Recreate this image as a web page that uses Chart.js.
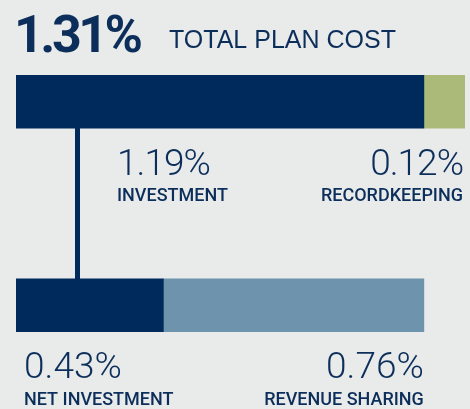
<!DOCTYPE html>
<html>
<head>
<meta charset="utf-8">
<script src="https://cdn.jsdelivr.net/npm/chart.js@4"></script>
<style>
  html, body { margin: 0; padding: 0; background: #e9eaea; }
  #wrap { width: 470px; height: 409px; }
</style>
</head>
<body>
<div id="wrap"><canvas id="planChart" width="470" height="409"></canvas></div>
<script>
// plan cost data (percent)
var rows = ['Total plan cost', 'Investment split'];
var firstPart = [1.19, 0.43];
var secondPart = [0.12, 0.76];
var firstNames = ['INVESTMENT', 'NET INVESTMENT'];
var secondNames = ['RECORDKEEPING', 'REVENUE SHARING'];
var totalCost = 1.31;
var totalTitle = 'TOTAL PLAN COST';

var navy = '#002a5b';
var textNavy = '#0c2e5a';
var numFont = '300 37px Roboto';
var nameFont = '500 18px Roboto';

function pct(v) { return v.toFixed(2) + '%'; }

// draws the headline, the labels and the connector line
var labelsPlugin = {
  id: 'labels',
  beforeDatasetsDraw: function(chart) {
    var ctx = chart.ctx;
    var x = chart.scales.x;
    var top = chart.getDatasetMeta(0).data[0];
    var bottom = chart.getDatasetMeta(0).data[1];
    // connector
    ctx.save();
    ctx.fillStyle = navy;
    ctx.fillRect(x.left + 59, top.y, 5, bottom.y - top.y);
    ctx.restore();
  },
  afterDraw: function(chart) {
    var ctx = chart.ctx;
    var x = chart.scales.x;
    var left = x.getPixelForValue(0);
    ctx.save();
    ctx.fillStyle = textNavy;
    ctx.textBaseline = 'alphabetic';

    // headline
    ctx.textAlign = 'left';
    ctx.font = 'bold 52px Roboto';
    ctx.letterSpacing = '-3.5px';
    ctx.fillText(pct(totalCost), left - 2, 52);
    ctx.letterSpacing = '0px';
    ctx.font = '25px "Liberation Sans"';
    ctx.fillText(totalTitle, 169, 48);

    // top row labels
    ctx.font = numFont;
    ctx.letterSpacing = '-1px';
    ctx.fillText(pct(firstPart[0]), left + 101, 175);
    ctx.letterSpacing = '0px';
    ctx.font = nameFont;
    ctx.fillText(firstNames[0], left + 101, 201);
    ctx.textAlign = 'right';
    var topEnd = x.getPixelForValue(firstPart[0] + secondPart[0]);
    ctx.font = numFont;
    ctx.letterSpacing = '-1px';
    ctx.fillText(pct(secondPart[0]), topEnd - 2, 175);
    ctx.letterSpacing = '0px';
    ctx.font = nameFont;
    ctx.fillText(secondNames[0], topEnd - 2, 201);

    // bottom row labels
    ctx.textAlign = 'left';
    ctx.font = numFont;
    ctx.fillText(pct(firstPart[1]), left + 8, 378);
    ctx.font = nameFont;
    ctx.fillText(firstNames[1], left + 8, 405);
    ctx.textAlign = 'right';
    var botEnd = x.getPixelForValue(firstPart[1] + secondPart[1]);
    ctx.font = numFont;
    ctx.fillText(pct(secondPart[1]), botEnd, 378);
    ctx.font = nameFont;
    ctx.fillText(secondNames[1], botEnd, 405);
    ctx.restore();
  }
};

var chart = new Chart(document.getElementById('planChart').getContext('2d'), {
  type: 'bar',
  data: {
    labels: rows,
    datasets: [{
      label: 'first',
      data: firstPart,
      backgroundColor: [navy, navy],
      barThickness: 53,
      borderWidth: 0
    }, {
      label: 'second',
      data: secondPart,
      backgroundColor: ['#abba78', '#6e94ad'],
      barThickness: 53,
      borderWidth: 0
    }]
  },
  options: {
    indexAxis: 'y',
    responsive: false,
    animation: false,
    layout: { padding: { left: 16, right: 5, top: 0, bottom: 2 } },
    plugins: {
      legend: { display: false },
      tooltip: { enabled: false }
    },
    scales: {
      x: { stacked: true, display: false, min: 0, max: totalCost },
      y: { stacked: true, display: false }
    }
  },
  plugins: [labelsPlugin]
});
</script>
</body>
</html>
